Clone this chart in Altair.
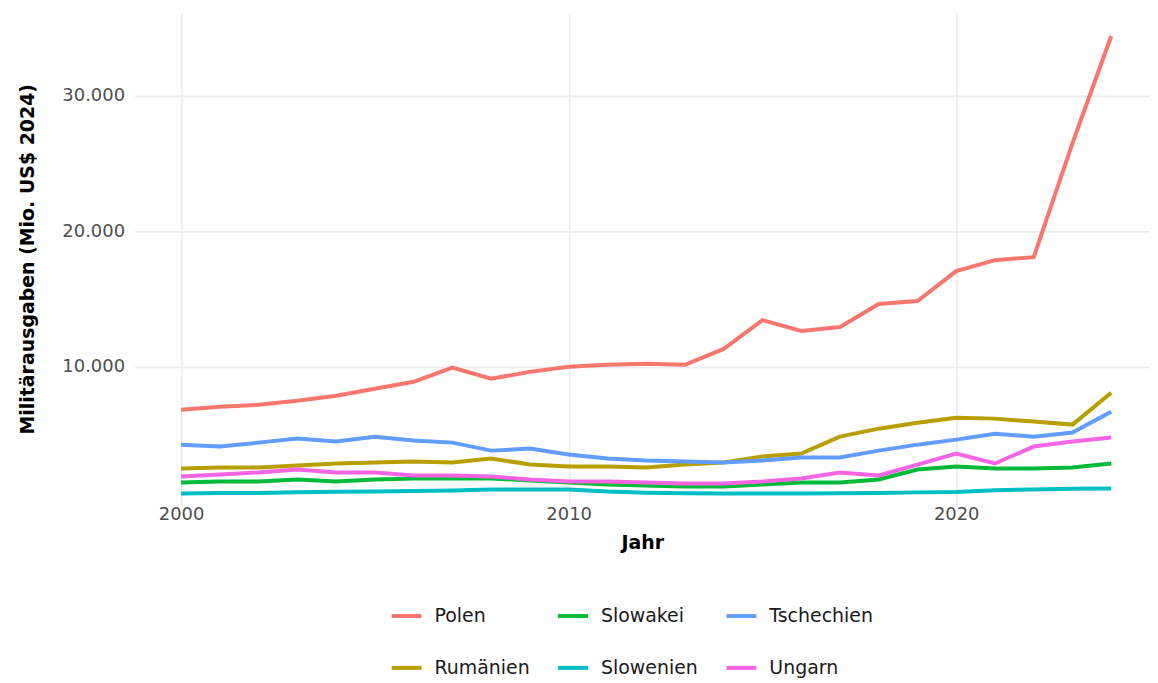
import altair as alt
import pandas as pd

years = list(range(2000, 2025))

polen = [6840, 7060, 7200, 7500, 7870, 8380, 8900, 9950, 9120, 9630, 10000, 10150, 10220, 10150,
         11320, 13450, 12650, 12940, 14630, 14850, 17060, 17870, 18090, 26500, 34400]
rumaenien = [2500, 2570, 2570, 2720, 2870, 2940, 3010, 2940, 3240, 2790, 2650, 2650, 2570, 2790,
             2940, 3380, 3600, 4850, 5440, 5880, 6250, 6180, 5960, 5740, 8090]
slowakei = [1470, 1540, 1540, 1690, 1540, 1690, 1760, 1760, 1760, 1620, 1470, 1320, 1250, 1180,
            1180, 1320, 1470, 1470, 1690, 2430, 2650, 2500, 2500, 2570, 2870]
slowenien = [660, 700, 700, 750, 780, 800, 850, 880, 950, 950, 950, 800, 720, 680,
             650, 650, 660, 680, 700, 740, 770, 900, 950, 1000, 1030]
tschechien = [4260, 4120, 4410, 4710, 4490, 4850, 4560, 4410, 3820, 3970, 3530, 3240, 3090, 3010,
              2940, 3090, 3310, 3310, 3820, 4260, 4630, 5070, 4850, 5150, 6690]
ungarn = [1910, 2060, 2210, 2430, 2210, 2210, 1990, 1990, 1910, 1690, 1540, 1540, 1470, 1400,
          1400, 1540, 1760, 2210, 1990, 2790, 3600, 2870, 4120, 4490, 4780]

series = {
    "Polen": polen,
    "Rumänien": rumaenien,
    "Slowakei": slowakei,
    "Slowenien": slowenien,
    "Tschechien": tschechien,
    "Ungarn": ungarn,
}

# legend order (column-major fill as in the reference, laid out row-wise)
legend_order = ["Polen", "Slowakei", "Tschechien", "Rumänien", "Slowenien", "Ungarn"]
legend_colors = ["#F8766D", "#00BA38", "#619CFF", "#B79F00", "#00BFC4", "#F564E3"]

rows = []
for land, vals in series.items():
    for j, v in zip(years, vals):
        rows.append({"Jahr": j, "Wert": v, "Land": land})
df = pd.DataFrame(rows)

FONT = "DejaVu Sans"

chart = alt.Chart(df).mark_line(strokeWidth=4).encode(
    x=alt.X("Jahr:Q",
            scale=alt.Scale(domain=[1998.8, 2025.0], nice=False, zero=False),
            axis=alt.Axis(values=[2000, 2010, 2020], format="d", title="Jahr",
                          labelFontSize=18, labelColor="#4D4D4D", labelPadding=1,
                          titleFontSize=19, titleFontWeight="bold", titleColor="#000000",
                          titlePadding=10,
                          ticks=False, domain=False, grid=True,
                          gridColor="#EBEBEB", gridWidth=1.6)),
    y=alt.Y("Wert:Q",
            scale=alt.Scale(domain=[-150, 36087], nice=False, zero=False),
            axis=alt.Axis(values=[10000, 20000, 30000],
                          labelExpr="replace(format(datum.value, ',d'), ',', '.')",
                          title="Militärausgaben (Mio. US$ 2024)",
                          labelFontSize=18, labelColor="#4D4D4D", labelPadding=10,
                          titleFontSize=19, titleFontWeight="bold", titleColor="#000000",
                          titlePadding=24,
                          ticks=False, domain=False, grid=True,
                          gridColor="#EBEBEB", gridWidth=1.6)),
    color=alt.Color("Land:N",
                    scale=alt.Scale(domain=legend_order, range=legend_colors),
                    legend=alt.Legend(title=None, orient="none", legendX=256, legendY=588,
                                      direction="horizontal", columns=3,
                                      symbolType="stroke", symbolStrokeWidth=4,
                                      symbolSize=900, labelFontSize=19,
                                      labelColor="#1A1A1A", labelOffset=11,
                                      columnPadding=20, rowPadding=25, padding=0)),
).properties(
    width=1019, height=493,
    padding={"left": 127, "top": 4, "right": 0, "bottom": 178},
    autosize=alt.AutoSizeParams(type="none"),
).configure(
    font=FONT,
).configure_view(
    stroke=None,
)

chart.save("out.html", embed_options={"renderer": "svg", "actions": False})
